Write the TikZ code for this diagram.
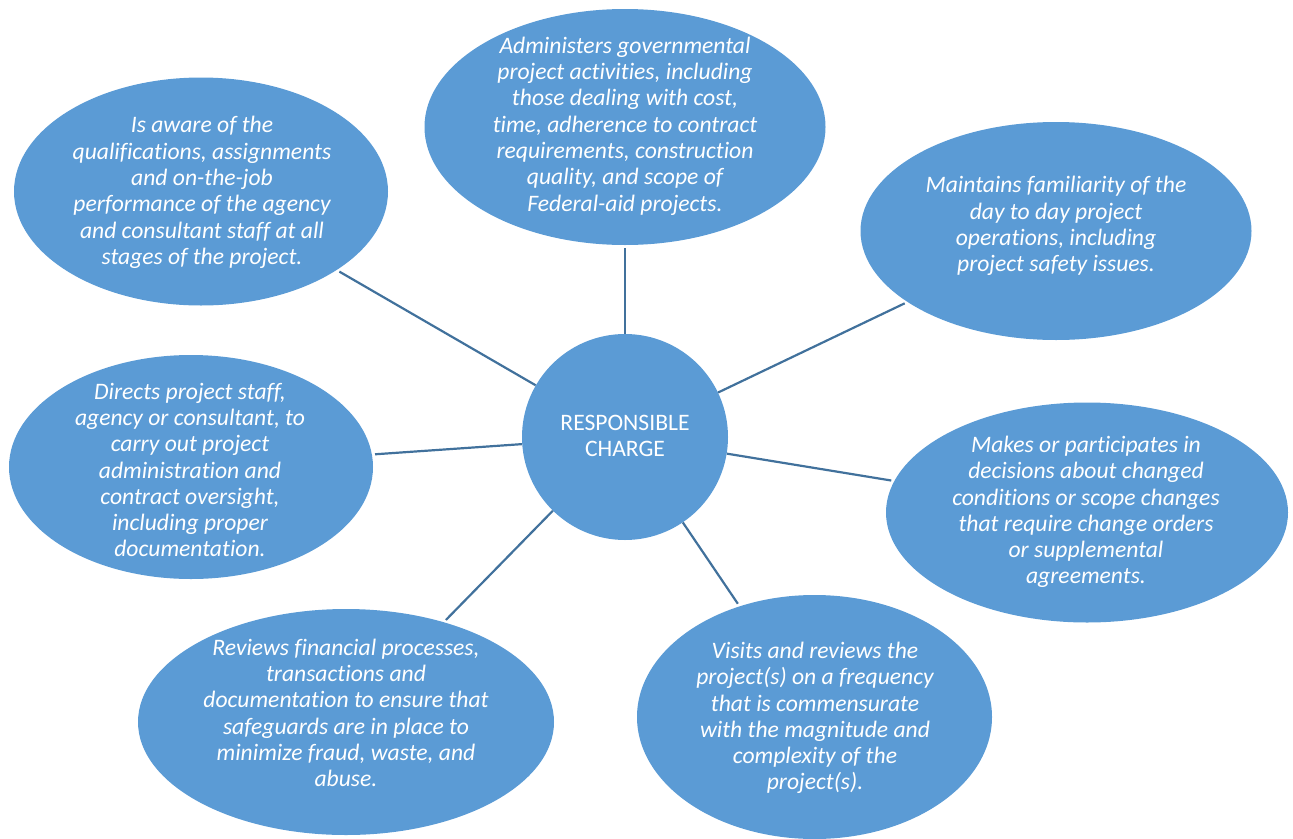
\documentclass[tikz,border=0pt]{standalone}
\usepackage{fontspec}
\setmainfont{Carlito}[Ligatures={NoCommon}]
\usetikzlibrary{shapes.geometric}
\definecolor{bubble}{RGB}{91,155,213}
\definecolor{link}{RGB}{65,113,156}
\tikzset{
  bub/.style={ellipse, fill=bubble, draw=none, inner sep=0pt},
  txt/.style={text=white, align=center, font=\fontsize{23.6}{26.3}\selectfont\itshape, inner sep=0pt},
  ctxt/.style={text=white, align=center, font=\fontsize{23.6}{26.3}\selectfont, inner sep=0pt},
  conn/.style={draw=link, line width=2.2pt, shorten >=3pt}
}
\begin{document}
\begin{tikzpicture}[x=1pt,y=-1pt]
\useasboundingbox (0,0) rectangle (1293,838);
% central circle
\node[circle, fill=bubble, minimum size=206pt, inner sep=0pt] (c) at (625,437) {};
\node[ctxt] (ct) at (625,436) {RESPONSIBLE\\CHARGE};
% outer ellipses
\node[bub, minimum width=401pt, minimum height=236pt] (top) at (625,127) {};
\node[bub, minimum width=374pt, minimum height=228pt] (tl) at (201,191.5) {};
\node[bub, minimum width=391pt, minimum height=218pt] (tr) at (1056,231) {};
\node[bub, minimum width=364pt, minimum height=224pt] (l) at (191,467) {};
\node[bub, minimum width=402pt, minimum height=220pt] (r) at (1087,512.5) {};
\node[bub, minimum width=416pt, minimum height=226pt] (bl) at (346,722) {};
\node[bub, minimum width=355pt, minimum height=244pt] (br) at (814.5,717) {};
% texts
\node[txt] (topt) at (625,126) {Administers governmental\\project activities, including\\those dealing with cost,\\time, adherence to contract\\requirements, construction\\quality, and scope of\\Federal-aid projects.};
\node[txt] (tlt) at (202,192.5) {Is aware of the\\qualifications, assignments\\and on-the-job\\performance of the agency\\and consultant staff at all\\stages of the project.};
\node[txt] (trt) at (1056,226) {Maintains familiarity of the\\day to day project\\operations, including\\project safety issues.};
\node[txt] (lt) at (190,470) {Directs project staff,\\agency or consultant, to\\carry out project\\administration and\\contract oversight,\\including proper\\documentation.};
\node[txt] (rt) at (1086,512) {Makes or participates in\\decisions about changed\\conditions or scope changes\\that require change orders\\or supplemental\\agreements.};
\node[txt] (blt) at (346,713) {Reviews financial processes,\\transactions and\\documentation to ensure that\\safeguards are in place to\\minimize fraud, waste, and\\abuse.};
\node[txt] (brt) at (815,718) {Visits and reviews the\\project(s) on a frequency\\that is commensurate\\with the magnitude and\\complexity of the\\project(s).};
% connectors
\draw[conn] (c) -- (top);
\draw[conn] (c) -- (tl);
\draw[conn] (c) -- (tr);
\draw[conn] (c) -- (l);
\draw[conn] (c) -- (r);
\draw[conn] (c) -- (bl);
\draw[conn] (c) -- (br);
\end{tikzpicture}
\end{document}
